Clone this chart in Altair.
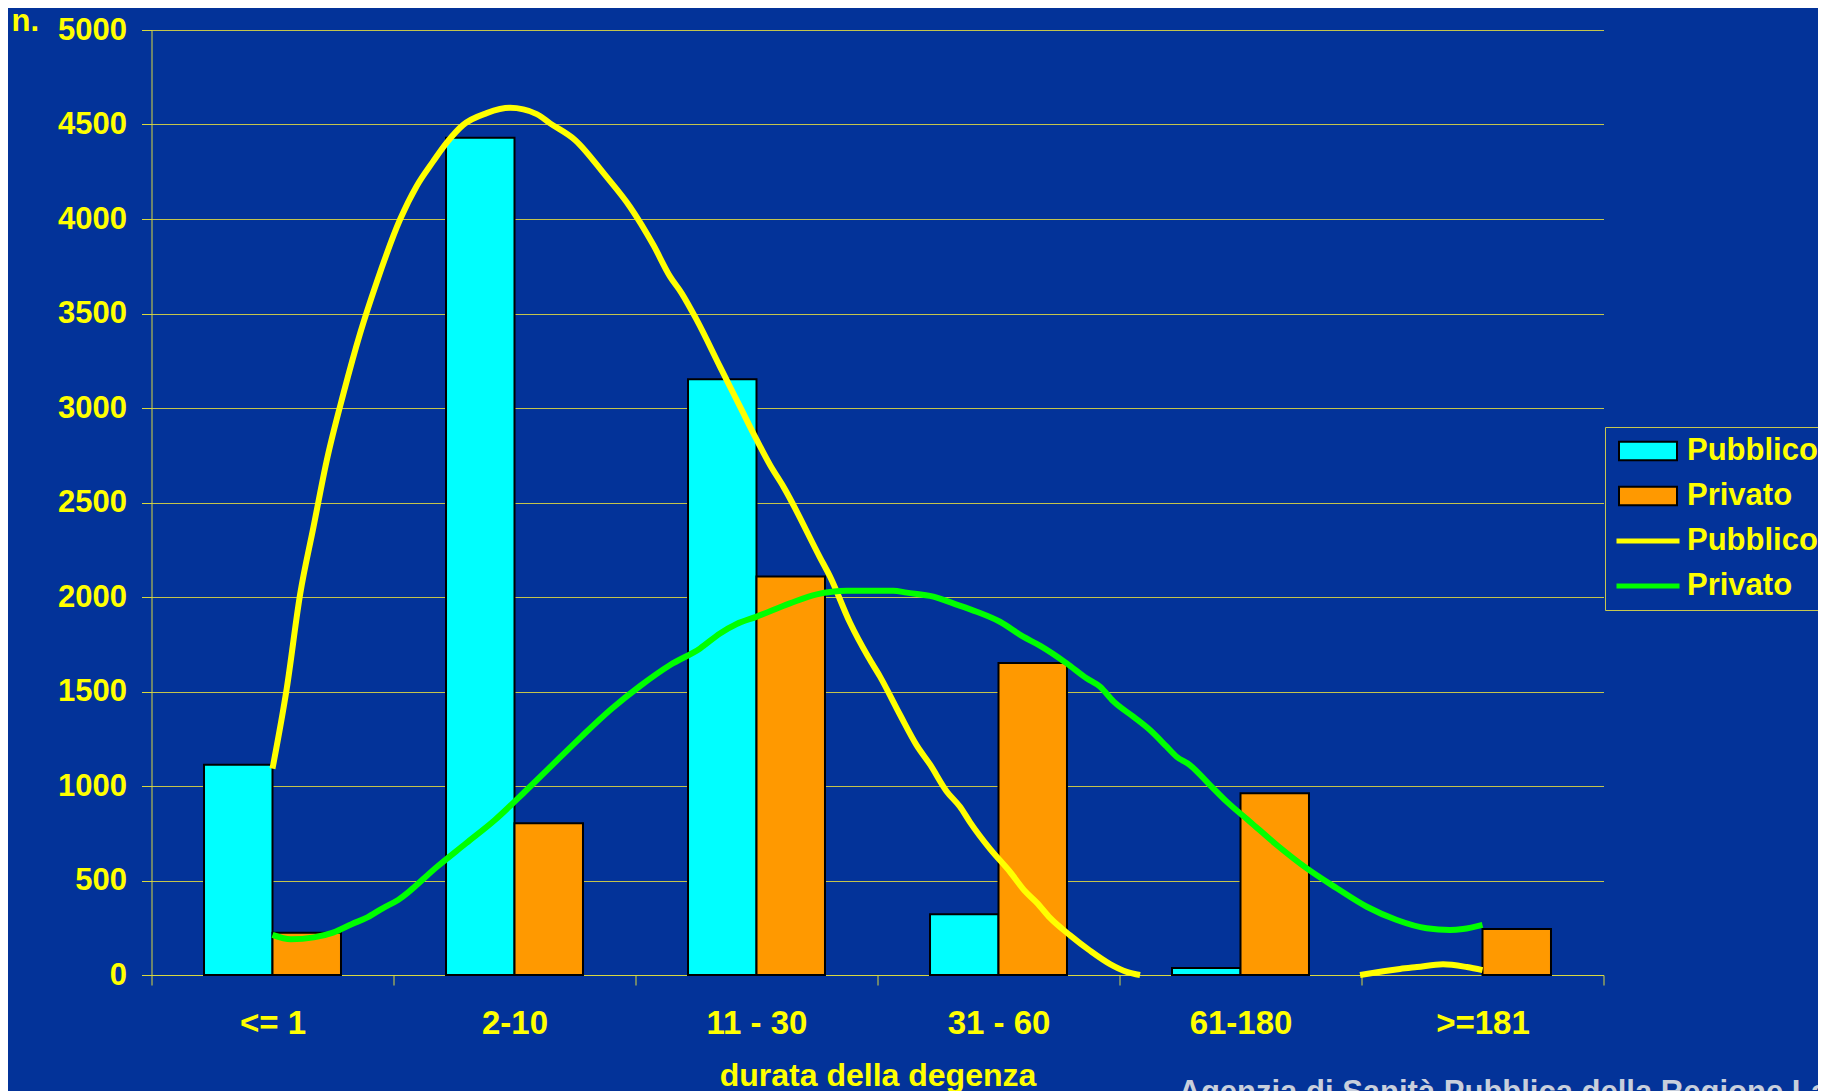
import json
import altair as alt
import pandas as pd

# ---------------- data ----------------
categories = ["<= 1", "2-10", "11 - 30", "31 - 60", "61-180", ">=181"]
series = ["Pubblico", "Privato"]
pubblico_bars = [1112, 4430, 3152, 322, 37, 0]
privato_bars = [224, 803, 2108, 1651, 961, 243]

# trend curves: position in category units (0 = centre of "<= 1", 5 = centre of ">=181")
pub_curve_pos = [0.00, 0.059, 0.114, 0.169, 0.224, 0.293, 0.362, 0.431, 0.527, 0.596,
                 0.664, 0.720, 0.788, 0.885, 0.981, 1.092, 1.147, 1.250, 1.374, 1.477,
                 1.574, 1.643, 1.691, 1.753, 1.849, 1.932, 2.001, 2.056, 2.111, 2.262,
                 2.304, 2.386, 2.462, 2.510, 2.593, 2.662, 2.717, 2.786, 2.841, 2.882,
                 2.965, 3.048, 3.110, 3.158, 3.213, 3.296, 3.378, 3.461, 3.530, 3.585]
pub_curve_val = [1092, 1517, 2013, 2368, 2722, 3076, 3395, 3667, 3997, 4175,
                 4305, 4404, 4498, 4560, 4588, 4555, 4506, 4418, 4233, 4065,
                 3862, 3695, 3607, 3466, 3219, 3007, 2831, 2698, 2584, 2210,
                 2108, 1865, 1682, 1580, 1377, 1215, 1114, 971, 890, 809,
                 667, 545, 443, 383, 302, 210, 129, 58, 17, 0]
pub_tail_pos = [4.494, 4.659, 4.729, 4.837, 4.936, 5.0]
pub_tail_val = [0, 32, 42, 57, 42, 26]

priv_curve_pos = [0.0, 0.076, 0.171, 0.250, 0.329, 0.392, 0.455, 0.519, 0.680, 0.800,
                  0.919, 1.050, 1.188, 1.279, 1.399, 1.519, 1.643, 1.767, 1.849, 1.918,
                  2.001, 2.138, 2.249, 2.373, 2.565, 2.621, 2.731, 2.813, 2.910, 3.006,
                  3.102, 3.171, 3.282, 3.364, 3.420, 3.474, 3.557, 3.626, 3.695, 3.736,
                  3.791, 3.874, 3.943, 4.039, 4.150, 4.274, 4.398, 4.522, 4.646, 4.769,
                  4.866, 4.919, 5.0]
priv_curve_val = [212, 189, 199, 224, 270, 305, 353, 397, 573, 697,
                  820, 979, 1151, 1264, 1406, 1529, 1640, 1728, 1807, 1857,
                  1896, 1966, 2014, 2033, 2033, 2023, 2002, 1966, 1922, 1869,
                  1790, 1743, 1649, 1570, 1525, 1449, 1367, 1296, 1208, 1155,
                  1111, 1005, 917, 811, 688, 564, 459, 361, 291, 247,
                  238, 243, 265]

watermark = "Agenzia di Sanità Pubblica della Regione Lazio"

# ---------------- tables ----------------
bars_df = pd.DataFrame(
    [{"category": c, "idx": i, "series": "Pubblico", "key": "Pubblico_bar", "value": v}
     for i, (c, v) in enumerate(zip(categories, pubblico_bars))]
    + [{"category": c, "idx": i, "series": "Privato", "key": "Privato_bar", "value": v}
       for i, (c, v) in enumerate(zip(categories, privato_bars))]
)

lines_df = pd.DataFrame(
    [{"pos": p, "value": v, "key": "Pubblico_line", "seg": "a"} for p, v in zip(pub_curve_pos, pub_curve_val)]
    + [{"pos": p, "value": v, "key": "Pubblico_line", "seg": "b"} for p, v in zip(pub_tail_pos, pub_tail_val)]
    + [{"pos": p, "value": v, "key": "Privato_line", "seg": "c"} for p, v in zip(priv_curve_pos, priv_curve_val)]
)

key_domain = ["Pubblico_bar", "Privato_bar", "Pubblico_line", "Privato_line"]
legend_df = pd.DataFrame({"key": key_domain})
wm_df = pd.DataFrame({"text": [watermark]})

# ---------------- style ----------------
BG = "#033399"
YEL = "#ffff00"
AXC = "#d8d840"
GRID = "#c4c44c"
FONT = "Liberation Sans"
W, H = 1452, 945
HALF_STEP = W / 12.0
BAR_W = 0.283  # bar width in category units

RECT = "M-1,-0.32H1V0.32H-1Z"
fill_range = ["#00ffff", "#ff9900", "transparent", "transparent"]
stroke_range = ["black", "black", "#ffff00", "#00ff00"]
shape_range = [RECT, RECT, "stroke", "stroke"]
size_range = [3364, 3364, 3969, 3969]
sw_range = [2, 2, 5, 5]


def make_legend():
    return alt.Legend(
        title=None,
        orient="none",
        legendX=1453.5,
        legendY=397,
        labelExpr="split(datum.label, '_')[0]",
        symbolStrokeColor="black",
        symbolOpacity=1,
        fillColor=BG,
        strokeColor="#c8c850",
        padding=9,
        rowPadding=14,
        clipHeight=30,
        labelFont=FONT,
        labelFontSize=31,
        labelFontWeight="bold",
        labelColor=YEL,
        labelOffset=5,
        labelLimit=0,
        cornerRadius=0,
    )


x_scale = alt.Scale(domain=[-0.5, 5.5], nice=False, zero=False)
y_scale = alt.Scale(domain=[0, 5000], nice=False)

x_axis = alt.Axis(
    values=[i - 0.5 for i in range(len(categories) + 1)],
    labelExpr=f"datum.value < {len(categories) - 1} ? {json.dumps(categories)}[round(datum.value + 0.5)] : ''",
    labelOffset=HALF_STEP,
    labelFlush=False,
    labelOverlap=False,
    labelAngle=0,
    labelFont=FONT,
    labelFontSize=33,
    labelFontWeight="bold",
    labelColor=YEL,
    labelPadding=22,
    tickSize=10,
    tickColor=AXC,
    domainColor=AXC,
    grid=False,
    orient="bottom",
    title="durata della degenza",
    titleFont=FONT,
    titleFontSize=32,
    titleFontWeight="bold",
    titleColor=YEL,
    titleBaseline="alphabetic",
    titleY=110,
)

y_axis = alt.Axis(
    values=list(range(0, 5001, 500)),
    format="d",
    title="n.",
    titleAngle=0,
    titleAlign="left",
    titleBaseline="alphabetic",
    titleX=-140.5,
    titleY=0,
    titleFont=FONT,
    titleFontSize=31,
    titleFontWeight="bold",
    titleColor=YEL,
    labelFont=FONT,
    labelFontSize=31,
    labelFontWeight="bold",
    labelColor=YEL,
    labelPadding=15,
    tickSize=10,
    tickColor=AXC,
    domainColor=AXC,
    grid=True,
    gridColor=GRID,
    gridWidth=1,
)

bars = alt.Chart(bars_df).transform_filter("datum.value > 0").transform_calculate(
    x0=f"datum.idx + (datum.series == 'Pubblico' ? -{BAR_W} : 0)",
    x1=f"datum.idx + (datum.series == 'Pubblico' ? 0 : {BAR_W})",
).mark_bar(stroke="black", strokeWidth=2, opacity=1).encode(
    x=alt.X("x0:Q", scale=x_scale, axis=x_axis),
    x2="x1:Q",
    y=alt.Y("value:Q", scale=y_scale, axis=y_axis),
    y2=alt.datum(0),
    fill=alt.Fill("key:N", scale=alt.Scale(domain=key_domain, range=fill_range), legend=make_legend()),
)

lines = alt.Chart(lines_df).mark_line(strokeWidth=6, interpolate="monotone").encode(
    x=alt.X("pos:Q"),
    y=alt.Y("value:Q"),
    stroke=alt.Stroke("key:N", scale=alt.Scale(domain=key_domain, range=stroke_range), legend=make_legend()),
    detail="seg:N",
)

# empty layer that only carries the legend symbol shapes / sizes
legend_layer = alt.Chart(legend_df).transform_filter("false").mark_point().encode(
    shape=alt.Shape("key:N", scale=alt.Scale(domain=key_domain, range=shape_range), legend=make_legend()),
    size=alt.Size("key:N", scale=alt.Scale(type="ordinal", domain=key_domain, range=size_range), legend=make_legend()),
    strokeWidth=alt.StrokeWidth("key:N", scale=alt.Scale(type="ordinal", domain=key_domain, range=sw_range), legend=make_legend()),
)

wm = alt.Chart(wm_df).mark_text(
    align="left", baseline="alphabetic", font=FONT, fontSize=31, fontWeight="bold", color="#c8cfdc"
).encode(
    text="text:N",
    x=alt.value(1027),
    y=alt.value(1072),
)

chart = alt.layer(bars, lines, legend_layer, wm).properties(
    width=W,
    height=H,
    background=BG,
    autosize=alt.AutoSizeParams(type="none"),
    padding={"left": 143.5, "top": 22, "right": 214, "bottom": 130},
).configure_view(stroke=None)

chart.save("out.html", embed_options={"renderer": "svg", "actions": False})
